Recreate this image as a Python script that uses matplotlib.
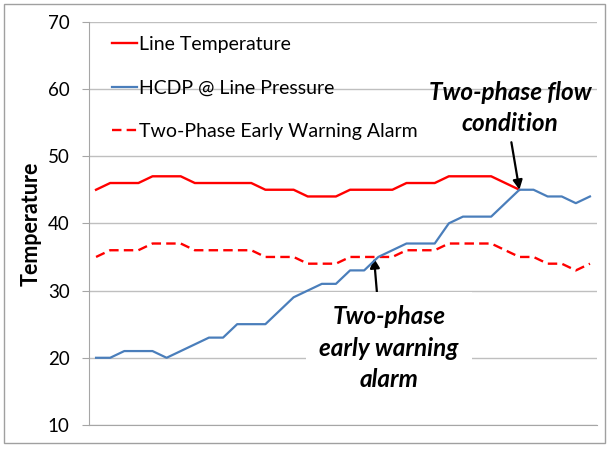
import matplotlib
matplotlib.use("Agg")
import matplotlib.pyplot as plt
from matplotlib.patches import Rectangle

plt.rcParams['font.family'] = ['Lato', 'DejaVu Sans']

line_temperature = [45, 46, 46, 46, 47, 47, 47, 46, 46, 46, 46, 46, 45, 45, 45, 44, 44, 44,
                    45, 45, 45, 45, 46, 46, 46, 47, 47, 47, 47, 46, 45]
hcdp = [20, 20, 21, 21, 21, 20, 21, 22, 23, 23, 25, 25, 25, 27, 29, 30, 31, 31,
        33, 33, 35, 36, 37, 37, 37, 40, 41, 41, 41, 43, 45, 45, 44, 44, 43, 44]
alarm = [35, 36, 36, 36, 37, 37, 37, 36, 36, 36, 36, 36, 35, 35, 35, 34, 34, 34,
         35, 35, 35, 35, 36, 36, 36, 37, 37, 37, 37, 36, 35, 35, 34, 34, 33, 34]
series_names = ["Line Temperature", "HCDP @ Line Pressure", "Two-Phase Early Warning Alarm"]
y_ticks = [10, 20, 30, 40, 50, 60, 70]
x = list(range(len(hcdp)))

fig = plt.figure(figsize=(6.09, 4.49), dpi=100)
ax = fig.add_axes([89/609, 1 - 425/449, (597-89)/609, (425-21.7)/449])

ax.plot(x[:len(line_temperature)], line_temperature, color='#FF0000', lw=1.7,
        label=series_names[0], zorder=3)
ax.plot(x, hcdp, color='#4A7EBB', lw=1.6, label=series_names[1], zorder=4)
ax.plot(x, alarm, color='#FF0000', lw=1.7, dashes=(4, 2.2), label=series_names[2], zorder=3)

ax.set_xlim(-0.5, len(x) - 0.5)
ax.set_ylim(10, 70)
ax.set_yticks(y_ticks)
ax.set_xticks([])
ax.grid(axis='y', color='#BFBFBF', lw=1.0)
ax.set_axisbelow(True)
for s in ['top', 'right']:
    ax.spines[s].set_visible(False)
ax.spines['left'].set_color('#A6A6A6')
ax.spines['bottom'].set_color('#A6A6A6')
ax.tick_params(axis='y', length=5, color='#A6A6A6', labelsize=13.5, pad=9, labelcolor='#000000')
ax.set_ylabel("Temperature", fontsize=15.5, fontweight='bold', labelpad=4.5)

leg = ax.legend(loc='upper left', bbox_to_anchor=(0.03, 0.985), frameon=False,
                fontsize=14, handlelength=1.3, handletextpad=0.1, labelspacing=1.38,
                borderaxespad=0)

ax.annotate("Two-phase flow\ncondition", xy=(30, 45), xytext=(29.35, 57.15),
            ha='center', va='center', fontsize=17.5, fontweight='bold', style='italic',
            linespacing=1.45,
            arrowprops=dict(arrowstyle='-|>', color='black', lw=1.6, mutation_scale=14,
                            shrinkA=3, shrinkB=0, relpos=(0.5, 0.0)))
ax.annotate("Two-phase\nearly warning\nalarm", xy=(19.7, 34.8), xytext=(20.77, 21.44),
            ha='center', va='center', fontsize=17.5, fontweight='bold', style='italic',
            linespacing=1.45,
            bbox=dict(boxstyle='square,pad=0.55', fc='white', ec='none'),
            arrowprops=dict(arrowstyle='-|>', color='black', lw=1.6, mutation_scale=14,
                            shrinkA=0, shrinkB=0, relpos=(0.42, 1.0)))

fig.patches.append(Rectangle((4/609, 1 - 443/449), 601/609, 439/449, transform=fig.transFigure,
                             fill=False, ec='#A0A0A0', lw=1.0))

fig.savefig("out.png", dpi=100)
